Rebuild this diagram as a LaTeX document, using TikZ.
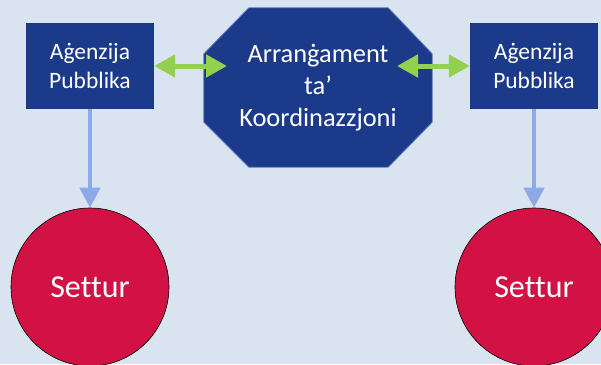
\documentclass[tikz,border=0pt]{standalone}
\usepackage{fontspec}
\setmainfont{Carlito}[Ligatures={NoCommon}]
\usetikzlibrary{arrows.meta,backgrounds}
\definecolor{bg}{HTML}{DAE3F0}
\definecolor{navy}{HTML}{1B3A8A}
\definecolor{crimson}{HTML}{D21245}
\definecolor{leaf}{HTML}{92D050}
\definecolor{sky}{HTML}{8EA9E8}
\definecolor{rim}{HTML}{5B7BC0}

\begin{document}
\begin{tikzpicture}[x=1pt,y=-1pt,
  agency/.style={rectangle, fill=navy, minimum width=128pt, minimum height=86pt,
    inner sep=0pt, text=white, align=center, font=\fontsize{23.5}{29}\selectfont},
  coordbox/.style={rectangle, minimum width=228pt, minimum height=159pt,
    inner sep=0pt, text=white, align=center, font=\fontsize{26.4}{32}\selectfont},
  sector/.style={circle, fill=crimson, draw=black, line width=0.6pt,
    minimum size=158pt, inner sep=0pt, text=white, font=\fontsize{32}{38}\selectfont},
  link/.style={leaf, line width=5pt,
    {Triangle[width=22pt,length=21pt]}-{Triangle[width=22pt,length=21pt]}},
  feed/.style={sky, line width=4.5pt, -{Triangle[width=20pt,length=20pt]}},
]
\useasboundingbox (0,0) rectangle (601,364);
\clip (0,0) rectangle (601,364);

% agencies and the coordination arrangement
\node[agency] (lbox) at (90,66) {Aġenzija\\Pubblika};
\node[agency] (rbox) at (534,66) {Aġenzija\\Pubblika};
\node[coordbox] (oct) at (318,87.5) {Arranġament\\ta’\\Koordinazzjoni};

% sectors
\node[sector] (lcirc) at (90,287) {Settur};
\node[sector] (rcirc) at (534,287) {Settur};

% background and octagon outline
\begin{scope}[on background layer]
  \fill[bg] (0,0) rectangle (601,364);
  \filldraw[fill=navy, draw=rim, line width=0.8pt]
    ([xshift=45pt]oct.north west) -- ([xshift=-44pt]oct.north east)
    -- ([yshift=-46pt]oct.north east) -- ([yshift=45pt]oct.south east)
    -- ([xshift=-44pt]oct.south east) -- ([xshift=45pt]oct.south west)
    -- ([yshift=45pt]oct.south west) -- ([yshift=-46pt]oct.north west)
    -- cycle;
\end{scope}

% two-way links between agencies and arrangement
\coordinate (lend) at (227,66);
\coordinate (rend) at (397,66);
\draw[link] (lbox.east) -- (lend);
\draw[link] (rend) -- (rbox.west);

% agencies feeding into sectors
\draw[feed] (lbox.south) -- (lcirc.north);
\draw[feed] (rbox.south) -- (rcirc.north);
\end{tikzpicture}
\end{document}
